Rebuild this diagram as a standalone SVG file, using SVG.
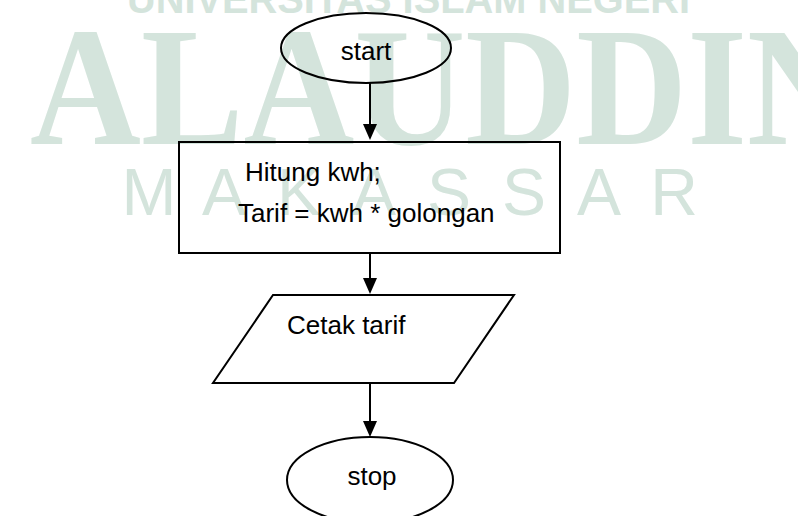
<svg xmlns="http://www.w3.org/2000/svg" width="798" height="516" viewBox="0 0 798 516">
  <defs>
    <style>
      .wm { fill: #d4e4dc; }
      .wm-top { font-family: "Liberation Sans", Arial, sans-serif; font-weight: bold; font-size: 40px; }
      .wm-big { font-family: "Liberation Serif", "Times New Roman", serif; font-weight: bold; font-size: 170px; }
      .wm-city { font-family: "Liberation Sans Narrow", "Liberation Sans", Arial, sans-serif; font-size: 66px; text-anchor: middle; }
      .shape { fill: none; stroke: #000; stroke-width: 2; }
      .label { font-family: "Liberation Sans", Arial, sans-serif; font-size: 26px; fill: #000; }
      .mid { text-anchor: middle; }
      .flow { stroke: #000; stroke-width: 2; fill: none; marker-end: url(#head); }
    </style>
    <marker id="head" markerUnits="userSpaceOnUse" markerWidth="16" markerHeight="14" refX="6" refY="7" orient="auto">
      <path d="M0,0 L16,7 L0,14 Z" fill="#000"/>
    </marker>
  </defs>

  <rect width="798" height="516" fill="#fff"/>

  <!-- background watermark -->
  <g id="watermark" class="wm">
    <text class="wm-top" x="127" y="13" textLength="563" lengthAdjust="spacingAndGlyphs">UNIVERSITAS ISLAM NEGERI</text>
    <text class="wm-big" x="30" y="144" textLength="828" lengthAdjust="spacingAndGlyphs">ALAUDDIN</text>
    <text class="wm-city" x="149 224 299 374 449 524 599 674" y="215">MAKASSAR</text>
  </g>

  <!-- connectors -->
  <g id="connectors">
    <line class="flow" x1="370" y1="83" x2="370" y2="130"/>
    <line class="flow" x1="370" y1="253" x2="370" y2="284"/>
    <line class="flow" x1="370" y1="383" x2="370" y2="427"/>
  </g>

  <g id="start">
    <ellipse class="shape" cx="366" cy="48" rx="85" ry="35"/>
    <text class="label mid" x="366" y="60">start</text>
  </g>

  <g id="process">
    <rect class="shape" x="179" y="142" width="381" height="111"/>
    <text class="label" x="245" y="181">Hitung kwh;</text>
    <text class="label" x="238" y="222">Tarif = kwh * golongan</text>
  </g>

  <g id="output">
    <polygon class="shape" points="273,295 514,295 454,383 213,383"/>
    <text class="label" x="287" y="334">Cetak tarif</text>
  </g>

  <g id="stop">
    <ellipse class="shape" cx="370" cy="480" rx="83" ry="43"/>
    <text class="label mid" x="372" y="485">stop</text>
  </g>
</svg>
